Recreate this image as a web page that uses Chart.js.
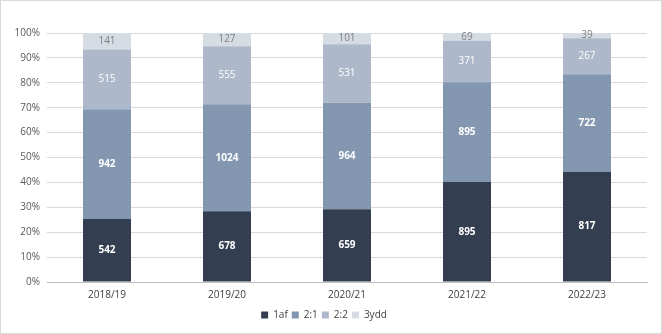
<!DOCTYPE html>
<html>
<head>
<meta charset="utf-8">
<script src="https://cdn.jsdelivr.net/npm/chart.js@4/dist/chart.umd.min.js"></script>
<style>
  html, body { margin: 0; padding: 0; background: #fff; }
  #wrap { position: relative; width: 660px; height: 332px; border: 1px solid #d9d9d9; }
</style>
</head>
<body>
<div id="wrap"><canvas id="chart"></canvas></div>
<script>
// Degree classes per academic year (head counts)
const years = ["2018/19", "2019/20", "2020/21", "2021/22", "2022/23"];
const firsts = [542, 678, 659, 895, 817];
const upperSeconds = [942, 1024, 964, 895, 722];
const lowerSeconds = [515, 555, 531, 371, 267];
const thirds = [141, 127, 101, 69, 39];

const seriesNames = ["1af", "2:1", "2:2", "3ydd"];
const seriesColors = ["#333f50", "#8497b0", "#adb9ca", "#d6dce4"];
const labelColors = ["#ffffff", "#ffffff", "#ffffff", "#7f7f7f"];
const labelBold = [true, true, false, false];

const counts = [firsts, upperSeconds, lowerSeconds, thirds];
const totals = years.map((_, i) => counts.reduce((s, arr) => s + arr[i], 0));

const FONT = "'Open Sans', 'Liberation Sans', sans-serif";

// write the head count in the middle of each segment
const segmentLabels = {
    id: "segmentLabels",
    afterDatasetsDraw(chart) {
        const ctx = chart.ctx;
        ctx.save();
        ctx.textAlign = "center";
        ctx.textBaseline = "middle";
        chart.data.datasets.forEach((ds, d) => {
            const meta = chart.getDatasetMeta(d);
            ctx.fillStyle = labelColors[d];
            ctx.font = (labelBold[d] ? "bold " : "") + "10px " + FONT;
            meta.data.forEach((bar, i) => {
                const y = (bar.y + bar.base) / 2;
                ctx.fillText(String(counts[d][i]), bar.x, y);
            });
        });
        ctx.restore();
    }
};

const ctx = document.getElementById("chart").getContext("2d");
new Chart(ctx, {
    type: "bar",
    data: {
        labels: years,
        datasets: counts.map((arr, d) => ({
            label: seriesNames[d],
            data: arr.map((v, i) => v / totals[i] * 100),
            backgroundColor: seriesColors[d],
            borderWidth: 0,
            categoryPercentage: 1,
            barPercentage: 0.4
        }))
    },
    options: {
        responsive: true,
        maintainAspectRatio: false,
        animation: false,
        layout: { padding: { top: 32, right: 14, left: 0, bottom: 3 } },
        plugins: {
            tooltip: { enabled: false },
            legend: {
                position: "bottom",
                labels: {
                    boxWidth: 7,
                    boxHeight: 7,
                    padding: 4,
                    color: "#404040",
                    font: { family: FONT, size: 10 }
                }
            }
        },
        scales: {
            x: {
                stacked: true,
                grid: { display: false, drawTicks: false },
                border: { display: true, color: "#bfbfbf" },
                afterFit(scale) { scale.height = 24; },
                ticks: { color: "#404040", padding: 7, font: { family: FONT, size: 10 } }
            },
            y: {
                stacked: true,
                min: 0,
                max: 100,
                afterFit(scale) { scale.width = 46; },
                grid: { color: "#d9d9d9", drawTicks: false },
                border: { display: false },
                ticks: {
                    stepSize: 10,
                    padding: 7,
                    color: "#595959",
                    font: { family: FONT, size: 10 },
                    callback: v => v + "%"
                }
            }
        }
    },
    plugins: [segmentLabels]
});
</script>
</body>
</html>
